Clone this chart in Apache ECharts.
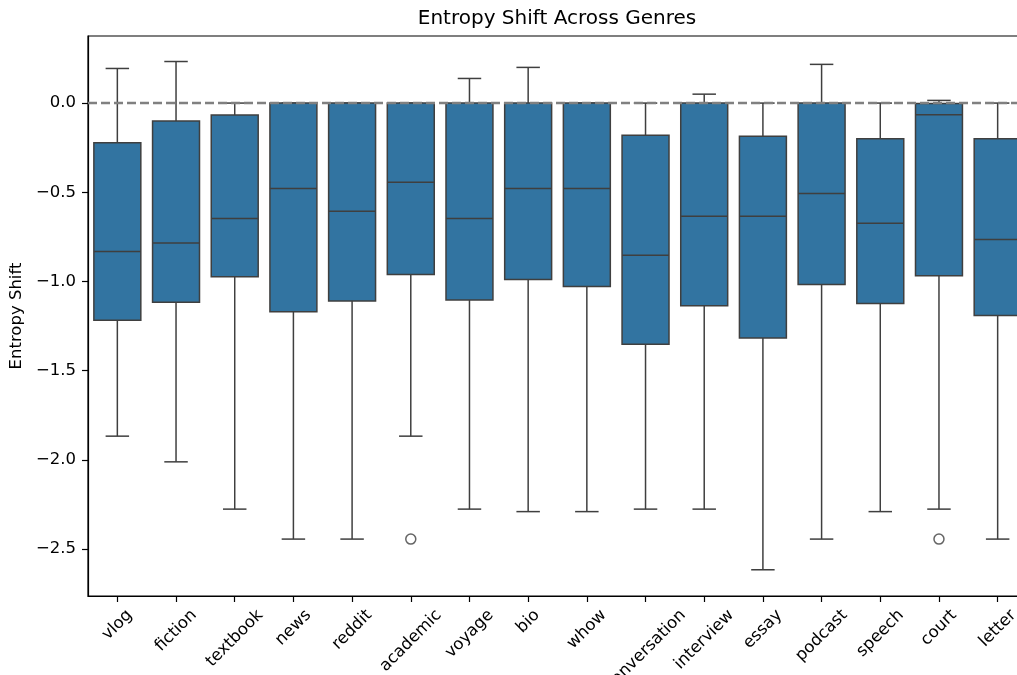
<!DOCTYPE html>
<html>
<head>
<meta charset="utf-8">
<script src="https://cdn.jsdelivr.net/npm/echarts@6/dist/echarts.min.js"></script>
<style>html,body{margin:0;padding:0;background:#fff;}#c{width:1017px;height:675px;}</style>
</head>
<body>
<div id="c"></div>
<script>
const categories = ['vlog','fiction','textbook','news','reddit','academic','voyage','bio','whow','conversation','interview','essay','podcast','speech','court','letter'];
const whiskerLow  = [-1.867,-2.011,-2.276,-2.444,-2.444,-1.867,-2.276,-2.290,-2.290,-2.276,-2.276,-2.616,-2.444,-2.290,-2.276,-2.444];
const q1          = [-1.218,-1.117,-0.974,-1.170,-1.110,-0.961,-1.104,-0.989,-1.028,-1.352,-1.136,-1.317,-1.017,-1.123,-0.968,-1.190];
const median      = [-0.832,-0.784,-0.647,-0.479,-0.606,-0.444,-0.647,-0.479,-0.479,-0.853,-0.634,-0.634,-0.507,-0.673,-0.065,-0.765];
const q3          = [-0.222,-0.101,-0.067,0,0,0,0,0,0,-0.181,0,-0.186,0,-0.200,-0.003,-0.200];
const whiskerHigh = [0.194,0.233,0,0,0,0,0.138,0.200,0,0,0.050,0,0.217,0,0.015,0];
const outlierCats   = ['academic','court'];
const outlierValues = [-2.444,-2.444];
const yTickValues = [0,-0.5,-1,-1.5,-2,-2.5];
const refLineValue = 0;
const refLineSpan = [0, 1]; // fraction of the axes width (like axhline)

const FONT = '"DejaVu Sans", sans-serif';
const tickFs = 16.5;
const boxColor = '#3274a1';
const edgeColor = '#3f3f3f';

const cv = document.createElement('canvas').getContext('2d');
cv.font = tickFs + 'px "DejaVu Sans"';
const rich = {};
categories.forEach((c, i) => {
  const w = cv.measureText(c).width;
  const h = tickFs * 1.16;
  const p = 0.5 * (w + h) - 3;
  rich['l' + i] = { fontSize: tickFs, fontFamily: FONT, color: '#000', padding: [p, p, 0, 0] };
});

const boxData = categories.map((c, i) => [i, whiskerLow[i], q1[i], median[i], q3[i], whiskerHigh[i]]);
const outlierData = outlierCats.map((c, i) => [c, outlierValues[i]]);
const refLineData = refLineSpan.map(x => [x, refLineValue]);

const chart = echarts.init(document.getElementById('c'), null, { renderer: 'canvas' });
chart.setOption({
  animation: false,
  backgroundColor: '#fff',
  title: {
    text: 'Entropy Shift Across Genres',
    left: 557, top: 9, padding: 0, textAlign: 'center',
    textStyle: { fontFamily: FONT, fontSize: 20, fontWeight: 'normal', color: '#000' }
  },
  grid: {
    left: 88, top: 36, width: 939, height: 560,
    show: true, borderColor: '#000', borderWidth: 1.2, backgroundColor: 'transparent',
    outerBoundsMode: 'none', containLabel: false
  },
  xAxis: [{
    type: 'category',
    data: categories,
    boundaryGap: true,
    axisLine: { show: true, onZero: false, lineStyle: { color: '#000', width: 1.2 } },
    axisTick: { show: true, alignWithLabel: true, length: 6, lineStyle: { color: '#000', width: 1.2 } },
    axisLabel: {
      interval: 0, rotate: 45, margin: 12, align: 'center', verticalAlign: 'middle',
      fontSize: tickFs, fontFamily: FONT, color: '#000',
      formatter: (v, i) => '{l' + i + '|' + v + '}',
      rich: rich
    },
    splitLine: { show: false }
  }, {
    type: 'value', min: 0, max: 1, show: false
  }],
  yAxis: {
    type: 'value',
    min: -2.763, max: 0.376,
    name: 'Entropy Shift',
    nameLocation: 'middle', nameRotate: 90, nameGap: 58,
    nameTextStyle: { fontFamily: FONT, fontSize: 16.5, color: '#000' },
    axisLine: { show: true, onZero: false, lineStyle: { color: '#000', width: 1.2 } },
    axisTick: { show: true, length: 6, customValues: yTickValues, lineStyle: { color: '#000', width: 1.2 } },
    axisLabel: {
      margin: 12, fontSize: tickFs, fontFamily: FONT, color: '#000',
      customValues: yTickValues,
      formatter: v => (v < 0 ? '\u2212' : '') + Math.abs(v).toFixed(1)
    },
    splitLine: { show: false }
  },
  series: [
    {
      type: 'custom',
      data: boxData,
      encode: { x: 0, y: [1, 2, 3, 4, 5] },
      z: 2,
      renderItem: function (params, api) {
        const x = api.value(0);
        const pLo = api.coord([x, api.value(1)]);
        const pQ1 = api.coord([x, api.value(2)]);
        const pMed = api.coord([x, api.value(3)]);
        const pQ3 = api.coord([x, api.value(4)]);
        const pHi = api.coord([x, api.value(5)]);
        const band = api.size([1, 0])[0];
        const bw = band * 0.8;
        const cw = bw / 2;
        const cx = pMed[0];
        const ls = { stroke: edgeColor, lineWidth: 1.5 };
        return {
          type: 'group',
          children: [
            { type: 'line', shape: { x1: cx, y1: pQ1[1], x2: cx, y2: pLo[1] }, style: ls },
            { type: 'line', shape: { x1: cx, y1: pQ3[1], x2: cx, y2: pHi[1] }, style: ls },
            { type: 'line', shape: { x1: cx - cw / 2, y1: pLo[1], x2: cx + cw / 2, y2: pLo[1] }, style: ls },
            { type: 'line', shape: { x1: cx - cw / 2, y1: pHi[1], x2: cx + cw / 2, y2: pHi[1] }, style: ls },
            { type: 'rect', shape: { x: cx - bw / 2, y: pQ3[1], width: bw, height: pQ1[1] - pQ3[1] },
              style: { fill: boxColor, stroke: edgeColor, lineWidth: 1.5 } },
            { type: 'line', shape: { x1: cx - bw / 2, y1: pMed[1], x2: cx + bw / 2, y2: pMed[1] }, style: ls }
          ]
        };
      }
    },
    {
      type: 'scatter',
      data: outlierData,
      symbol: 'circle',
      symbolSize: 10,
      z: 3,
      itemStyle: { color: 'transparent', borderColor: edgeColor, borderWidth: 1.5 }
    },
    {
      type: 'line',
      xAxisIndex: 1,
      data: refLineData,
      z: 10,
      symbol: 'none',
      silent: true,
      lineStyle: { color: '#808080', width: 2.5, type: [9, 4] }
    }
  ]
});
</script>
</body>
</html>
